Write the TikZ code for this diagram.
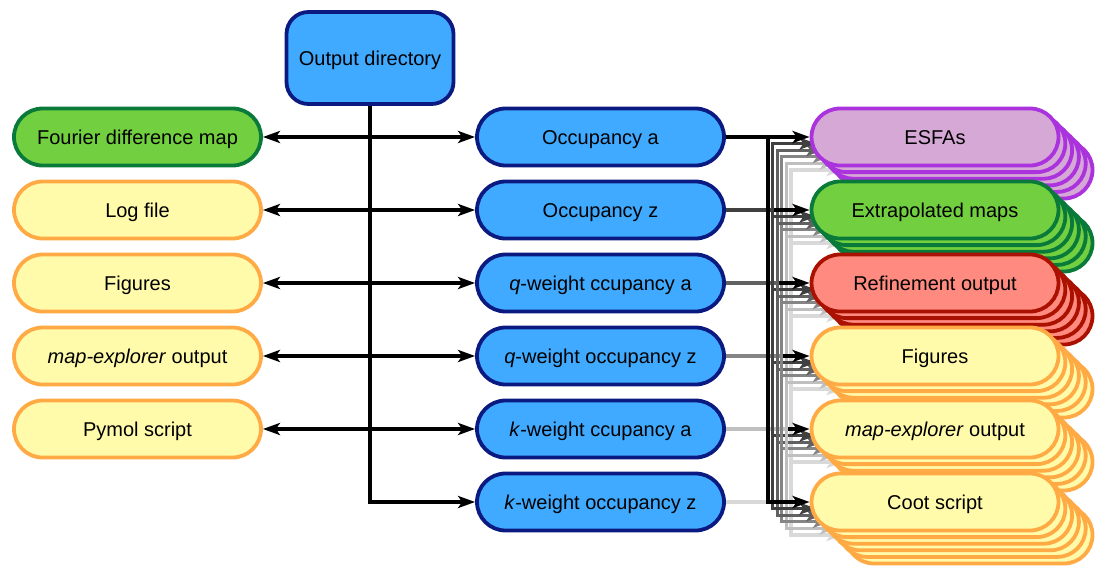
\documentclass[tikz,border=0pt]{standalone}
\usepackage{fontspec}
\setmainfont{Liberation Sans}
\usetikzlibrary{arrows.meta}
\definecolor{bfill}{HTML}{3FAAFF}
\definecolor{bdraw}{HTML}{0B1A80}
\definecolor{gfill}{HTML}{72CF3F}
\definecolor{gdraw}{HTML}{0A7A3A}
\definecolor{yfill}{HTML}{FFFBAA}
\definecolor{ydraw}{HTML}{FFAA44}
\definecolor{pfill}{HTML}{D6A8D6}
\definecolor{pdraw}{HTML}{AA33DD}
\definecolor{rfill}{HTML}{FF8A80}
\definecolor{rdraw}{HTML}{AA1100}
\tikzset{
  pill/.style={draw, line width=3.8pt, rounded corners=28.5pt, minimum width=247pt,
    minimum height=57pt, inner sep=0pt, text height=14pt, text depth=0pt,
    font=\fontsize{20}{24}\selectfont, text=black},
  bluepill/.style={pill, fill=bfill, draw=bdraw},
  greenpill/.style={pill, fill=gfill, draw=gdraw},
  yellowpill/.style={pill, fill=yfill, draw=ydraw},
  purplepill/.style={pill, fill=pfill, draw=pdraw},
  redpill/.style={pill, fill=rfill, draw=rdraw},
  dirbox/.style={draw=bdraw, fill=bfill, line width=3.8pt, rounded corners=22pt,
    minimum width=167pt, minimum height=92pt, inner sep=0pt, text height=14pt, text depth=0pt,
    font=\fontsize{20}{24}\selectfont},
  conn/.style={line width=3.2pt, -{Stealth[length=17pt,width=12pt,inset=4pt]}},
}
\begin{document}
\begin{tikzpicture}[x=1pt,y=-1pt]
\useasboundingbox (0,0) rectangle (1097,565);
% output directory
\node[dirbox] (od) at (370,58) {Output directory};
% left nodes
\node[greenpill] (l0) at (137.5,137) {Fourier difference map};
\node[yellowpill] (l1) at (137.5,210) {Log file};
\node[yellowpill] (l2) at (137.5,283) {Figures};
\node[yellowpill] (l3) at (137.5,356) {\textit{map-explorer} output};
\node[yellowpill] (l4) at (137.5,429) {Pymol script};
% middle nodes
\node[bluepill] (m0) at (600.5,137) {Occupancy a};
\node[bluepill] (m1) at (600.5,210) {Occupancy z};
\node[bluepill] (m2) at (600.5,283) {\textit{q}-weight ccupancy a};
\node[bluepill] (m3) at (600.5,356) {\textit{q}-weight occupancy z};
\node[bluepill] (m4) at (600.5,429) {\textit{k}-weight ccupancy a};
\node[bluepill] (m5) at (600.5,502) {\textit{k}-weight occupancy z};
% bus coordinates
\foreach \j/\yy in {0/137,1/210,2/283,3/356,4/429,5/502}
  \coordinate (b\j) at ({768+4.6*\j},\yy);
% output directory connectors
\foreach \i in {0,...,5} \draw[conn] (od.south) |- (m\i.west);
\foreach \i in {0,...,4} \draw[conn] (od.south) |- (l\i.east);
% right stacks
\foreach \r/\y/\st/\txt in {1/137/purplepill/ESFAs, 2/210/greenpill/Extrapolated maps,
   3/283/redpill/Refinement output, 4/356/yellowpill/Figures,
   5/429/yellowpill/{\textit{map-explorer} output}, 6/502/yellowpill/Coot script} {
  \foreach \j/\c in {5/black!15, 4/black!25, 3/black!48, 2/black!62, 1/black!75, 0/black} {
    \node[\st] (s\r-\j) at ({935+6.8*\j},{\y+6.6*\j}) {\ifnum\j=0 \txt\fi};
    \draw[conn, color=\c] (m\j.east) -- (b\j) |- (s\r-\j.west);
  }
}
\end{tikzpicture}
\end{document}
